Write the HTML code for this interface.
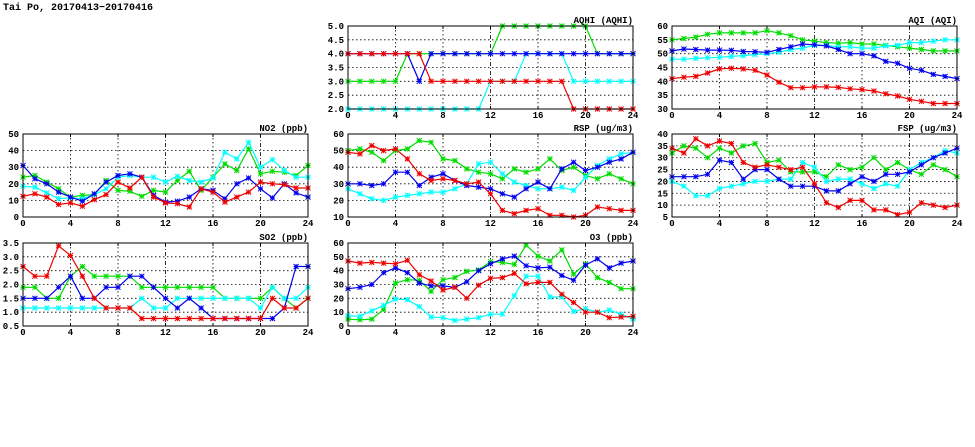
<!DOCTYPE html>
<html><head><meta charset="utf-8">
<style>
html,body{margin:0;padding:0;background:#fff;}
svg{display:block;}
text{font-family:"Liberation Mono","DejaVu Sans Mono",monospace;font-weight:bold;font-size:9px;fill:#000;}
.yl{text-anchor:end;}
.xl{text-anchor:middle;}
.tt{text-anchor:end;}
</style></head>
<body>
<svg id="s" width="975" height="447" viewBox="0 0 975 447" xmlns="http://www.w3.org/2000/svg">
<text x="3" y="10" style="font-size:10px">Tai Po, 20170413−20170416</text>

<g id="p_no2" transform="translate(23,134)">
<text class="tt" x="285" y="-3">NO2 (ppb)</text>
<text class="yl" x="-4" y="86">0</text><text class="yl" x="-4" y="69.4">10</text><text class="yl" x="-4" y="52.8">20</text><text class="yl" x="-4" y="36.2">30</text><text class="yl" x="-4" y="19.6">40</text><text class="yl" x="-4" y="3">50</text>
<text class="xl" x="0" y="92">0</text><text class="xl" x="47.5" y="92">4</text><text class="xl" x="95" y="92">8</text><text class="xl" x="142.5" y="92">12</text><text class="xl" x="190" y="92">16</text><text class="xl" x="237.5" y="92">20</text><text class="xl" x="285" y="92">24</text>
</g>
<g id="p_so2" transform="translate(23,243)">
<text class="tt" x="285" y="-3">SO2 (ppb)</text>
<text class="yl" x="-4" y="86">0.5</text><text class="yl" x="-4" y="72.2">1.0</text><text class="yl" x="-4" y="58.3">1.5</text><text class="yl" x="-4" y="44.5">2.0</text><text class="yl" x="-4" y="30.7">2.5</text><text class="yl" x="-4" y="16.8">3.0</text><text class="yl" x="-4" y="3">3.5</text>
<text class="xl" x="0" y="92">0</text><text class="xl" x="47.5" y="92">4</text><text class="xl" x="95" y="92">8</text><text class="xl" x="142.5" y="92">12</text><text class="xl" x="190" y="92">16</text><text class="xl" x="237.5" y="92">20</text><text class="xl" x="285" y="92">24</text>
</g>
<g id="p_aqhi" transform="translate(348,26)">
<text class="tt" x="285" y="-3">AQHI (AQHI)</text>
<text class="yl" x="-4" y="86">2.0</text><text class="yl" x="-4" y="72.2">2.5</text><text class="yl" x="-4" y="58.3">3.0</text><text class="yl" x="-4" y="44.5">3.5</text><text class="yl" x="-4" y="30.7">4.0</text><text class="yl" x="-4" y="16.8">4.5</text><text class="yl" x="-4" y="3">5.0</text>
<text class="xl" x="0" y="92">0</text><text class="xl" x="47.5" y="92">4</text><text class="xl" x="95" y="92">8</text><text class="xl" x="142.5" y="92">12</text><text class="xl" x="190" y="92">16</text><text class="xl" x="237.5" y="92">20</text><text class="xl" x="285" y="92">24</text>
</g>
<g id="p_rsp" transform="translate(348,134)">
<text class="tt" x="285" y="-3">RSP (ug/m3)</text>
<text class="yl" x="-4" y="86">10</text><text class="yl" x="-4" y="69.4">20</text><text class="yl" x="-4" y="52.8">30</text><text class="yl" x="-4" y="36.2">40</text><text class="yl" x="-4" y="19.6">50</text><text class="yl" x="-4" y="3">60</text>
<text class="xl" x="0" y="92">0</text><text class="xl" x="47.5" y="92">4</text><text class="xl" x="95" y="92">8</text><text class="xl" x="142.5" y="92">12</text><text class="xl" x="190" y="92">16</text><text class="xl" x="237.5" y="92">20</text><text class="xl" x="285" y="92">24</text>
</g>
<g id="p_o3" transform="translate(348,243)">
<text class="tt" x="285" y="-3">O3 (ppb)</text>
<text class="yl" x="-4" y="86">0</text><text class="yl" x="-4" y="72.2">10</text><text class="yl" x="-4" y="58.3">20</text><text class="yl" x="-4" y="44.5">30</text><text class="yl" x="-4" y="30.7">40</text><text class="yl" x="-4" y="16.8">50</text><text class="yl" x="-4" y="3">60</text>
<text class="xl" x="0" y="92">0</text><text class="xl" x="47.5" y="92">4</text><text class="xl" x="95" y="92">8</text><text class="xl" x="142.5" y="92">12</text><text class="xl" x="190" y="92">16</text><text class="xl" x="237.5" y="92">20</text><text class="xl" x="285" y="92">24</text>
</g>
<g id="p_aqi" transform="translate(672,26)">
<text class="tt" x="285" y="-3">AQI (AQI)</text>
<text class="yl" x="-4" y="86">30</text><text class="yl" x="-4" y="72.2">35</text><text class="yl" x="-4" y="58.3">40</text><text class="yl" x="-4" y="44.5">45</text><text class="yl" x="-4" y="30.7">50</text><text class="yl" x="-4" y="16.8">55</text><text class="yl" x="-4" y="3">60</text>
<text class="xl" x="0" y="92">0</text><text class="xl" x="47.5" y="92">4</text><text class="xl" x="95" y="92">8</text><text class="xl" x="142.5" y="92">12</text><text class="xl" x="190" y="92">16</text><text class="xl" x="237.5" y="92">20</text><text class="xl" x="285" y="92">24</text>
</g>
<g id="p_fsp" transform="translate(672,134)">
<text class="tt" x="285" y="-3">FSP (ug/m3)</text>
<text class="yl" x="-4" y="86">5</text><text class="yl" x="-4" y="74.1">10</text><text class="yl" x="-4" y="62.3">15</text><text class="yl" x="-4" y="50.4">20</text><text class="yl" x="-4" y="38.6">25</text><text class="yl" x="-4" y="26.7">30</text><text class="yl" x="-4" y="14.9">35</text><text class="yl" x="-4" y="3">40</text>
<text class="xl" x="0" y="92">0</text><text class="xl" x="47.5" y="92">4</text><text class="xl" x="95" y="92">8</text><text class="xl" x="142.5" y="92">12</text><text class="xl" x="190" y="92">16</text><text class="xl" x="237.5" y="92">20</text><text class="xl" x="285" y="92">24</text>
</g>
</svg>
<script>
var W=285,H=83,NS="http://www.w3.org/2000/svg";
var C={g:"#00dd00",c:"#00ffff",b:"#0000ee",r:"#ee0000"};
var P={
p_no2:{min:0,max:50,n:6,s:{
g:[24,25,21,17,12,13,13.5,22,16,15.5,12.5,16,15,22,27.5,16,24,32,28,41,26,27.5,27,25,31],
c:[18.5,18,14.5,11,11.5,11,13.5,17,24,25,24,24,21,24.5,22,21,23.5,39,35,45,30,34.5,28,24,24],
b:[31,23,20,15,12,9.5,14,21,25,26,24,13,9,9.5,12,17,16,11,20,23.5,17,11.5,20,14.5,12],
r:[12.5,14,12,7.5,8.5,6.5,10.5,13.5,21,17.5,24,12,8.5,8,6,17,15,9,12,15,21,20,19.5,17.5,17.5]}},
p_so2:{min:0.5,max:3.5,n:7,s:{
g:[1.9,1.9,1.5,1.5,2.3,2.65,2.3,2.3,2.3,2.3,1.9,1.9,1.9,1.9,1.9,1.9,1.9,1.5,1.5,1.5,1.5,1.9,1.5,1.15,1.5],
c:[1.15,1.15,1.15,1.15,1.15,1.15,1.15,1.15,1.15,1.15,1.5,1.15,1.15,1.5,1.5,1.5,1.5,1.5,1.5,1.5,1.15,1.9,1.5,1.5,1.9],
b:[1.5,1.5,1.5,1.9,2.3,1.5,1.5,1.9,1.9,2.3,2.3,1.9,1.5,1.15,1.5,1.15,0.77,0.77,0.77,0.77,0.77,0.77,1.15,2.65,2.65],
r:[2.65,2.3,2.3,3.4,3.05,2.3,1.5,1.15,1.15,1.15,0.77,0.77,0.77,0.77,0.77,0.77,0.77,0.77,0.77,0.77,0.77,1.5,1.15,1.15,1.5]}},
p_aqhi:{min:2,max:5,n:7,s:{
c:[2,2,2,2,2,2,2,2,2,2,2,2,3,3,3,4,4,4,4,3,3,3,3,3,3],
g:[3,3,3,3,3,4,4,4,4,4,4,4,4,5,5,5,5,5,5,5,5,4,4,4,4],
b:[4,4,4,4,4,4,3,4,4,4,4,4,4,4,4,4,4,4,4,4,4,4,4,4,4],
r:[4,4,4,4,4,4,4,3,3,3,3,3,3,3,3,3,3,3,3,2,2,2,2,2,2]}},
p_rsp:{min:10,max:60,n:6,s:{
g:[50,51,49,44,50,51,56,55,45,44,39,37,36,33,39,37,39,45,38,40,35,33,36,33,30],
c:[27,24,21,20,22,23,24,25,25,27,30,42,43,36,31,29,27,27,28,26,34,41,45,48,49],
b:[30,30,29,30,37,37,29,34,36,32,29,28,27,24,22,27,31,27,39,43,38,40,43,45,49],
r:[49,48,53,50,51,45,36,32,33,32,30,31,24,14,12,14,15,11,11,10,11,16,15,14,14]}},
p_o3:{min:0,max:60,n:7,s:{
g:[5,4.5,5,12,31,33.5,33,25,33.5,35,39.5,40.5,46.5,46,44.5,58.5,50.5,47,55,37.5,45,35,31.5,27,27],
c:[7.5,7,11,15,19.5,19,14,6.5,6,4,5,6,8.5,8.5,22,36,36,21,21,10.5,12.5,10,11.5,8.5,5],
b:[27,28,30,38.5,42,38.5,31,29,29,28,32,40,45,48.5,50.5,43.5,42,42.5,36.5,33,44,48.5,42,45.5,47],
r:[47,45.5,46,45.5,45,47.5,37,32.5,26,28,20,29.5,34.5,35,38,30.5,31.5,31.5,23,17,10,10,6,6.5,7]}},
p_aqi:{min:30,max:60,n:7,s:{
g:[55,55.5,56,57,57.5,57.5,57.5,57.5,58.3,57.5,56.5,55,54.5,54,53.8,54,53.5,53.5,53,52.5,52,51.5,51,51,51],
c:[48,48,48.3,48.5,48.7,49,49.3,49.7,50,50.5,51.5,52,53,53,52.5,52.5,52,52,52.8,53,54,54,54.5,55,55],
b:[51,51.7,51.5,51.3,51.3,51.2,50.8,50.7,50.5,51.5,52.5,53.5,53.2,52.8,51.5,50,50,49.2,47.2,46.5,44.7,44,42.5,41.8,41],
r:[41,41.5,41.8,43,44.5,44.7,44.5,44,42.3,39.7,37.7,37.7,38,38,37.8,37.3,37,36.5,35.5,34.7,33.5,32.8,32,32,32]}},
p_fsp:{min:5,max:40,n:8,s:{
g:[32,35,34,30,34,32,35,36,28,29,24,24,24,22,27,25,26,30,25,28,25,23,27,25,22],
c:[20,18,14,14,17,18,19,20,20,21,21,28,26,20,21,21,19,17,19,18,25,28,30,33,32],
b:[22,22,22,23,29,28,21,25,25,21,18,18,18,16,16,19,22,20,23,23,24,27,30,32,34],
r:[34,32,38,35,37,36,28,26,27,26,25,26,19,11,9,12,12,8,8,6,7,11,10,9,10]}}
};
function el(t,a,p){var e=document.createElementNS(NS,t);for(var k in a)e.setAttribute(k,a[k]);p.appendChild(e);return e;}
for(var id in P){
 var g=document.getElementById(id),p=P[id],first=g.firstChild;
 var gg=document.createElementNS(NS,"g");g.insertBefore(gg,first);
 for(var k=1;k<p.n-1;k++){var y=H*k/(p.n-1);el("line",{x1:0,x2:W,y1:y,y2:y,stroke:"#000","stroke-width":0.8,"stroke-dasharray":"1.5,2.5"},gg);}
 for(var k=1;k<6;k++){var x=W*k/6;var dd=(k==3||k==5)?"4,2,1,2":"1.5,2.5";el("line",{x1:x,x2:x,y1:0,y2:H,stroke:"#000","stroke-width":0.8,"stroke-dasharray":dd},gg);}
 ["g","c","b","r"].forEach(function(s){
  var d=p.s[s],pts=[];
  for(var i=0;i<d.length;i++){var x=W*i/24,y=H*(1-(d[i]-p.min)/(p.max-p.min));pts.push(x.toFixed(1)+","+y.toFixed(1));}
  el("polyline",{points:pts.join(" "),fill:"none",stroke:C[s],"stroke-width":1.2},gg);
  var m="";
  pts.forEach(function(q){var a=q.split(","),x=+a[0],y=+a[1];m+="M"+(x-2.5)+","+(y-2.5)+"L"+(x+2.5)+","+(y+2.5)+"M"+(x-2.5)+","+(y+2.5)+"L"+(x+2.5)+","+(y-2.5)+"M"+(x-2.5)+","+y+"L"+(x+2.5)+","+y+"M"+x+","+(y-2.5)+"L"+x+","+(y+2.5);});
  el("path",{d:m,stroke:C[s],"stroke-width":1,fill:"none"},gg);
 });
 el("rect",{x:0,y:0,width:W,height:H,fill:"none",stroke:"#000","stroke-width":1},gg);
 for(var k=1;k<6;k++){var x=W*k/6;el("line",{x1:x,x2:x,y1:H,y2:H-3,stroke:"#000"},gg);el("line",{x1:x,x2:x,y1:0,y2:3,stroke:"#000"},gg);}
}
</script>
</body></html>
